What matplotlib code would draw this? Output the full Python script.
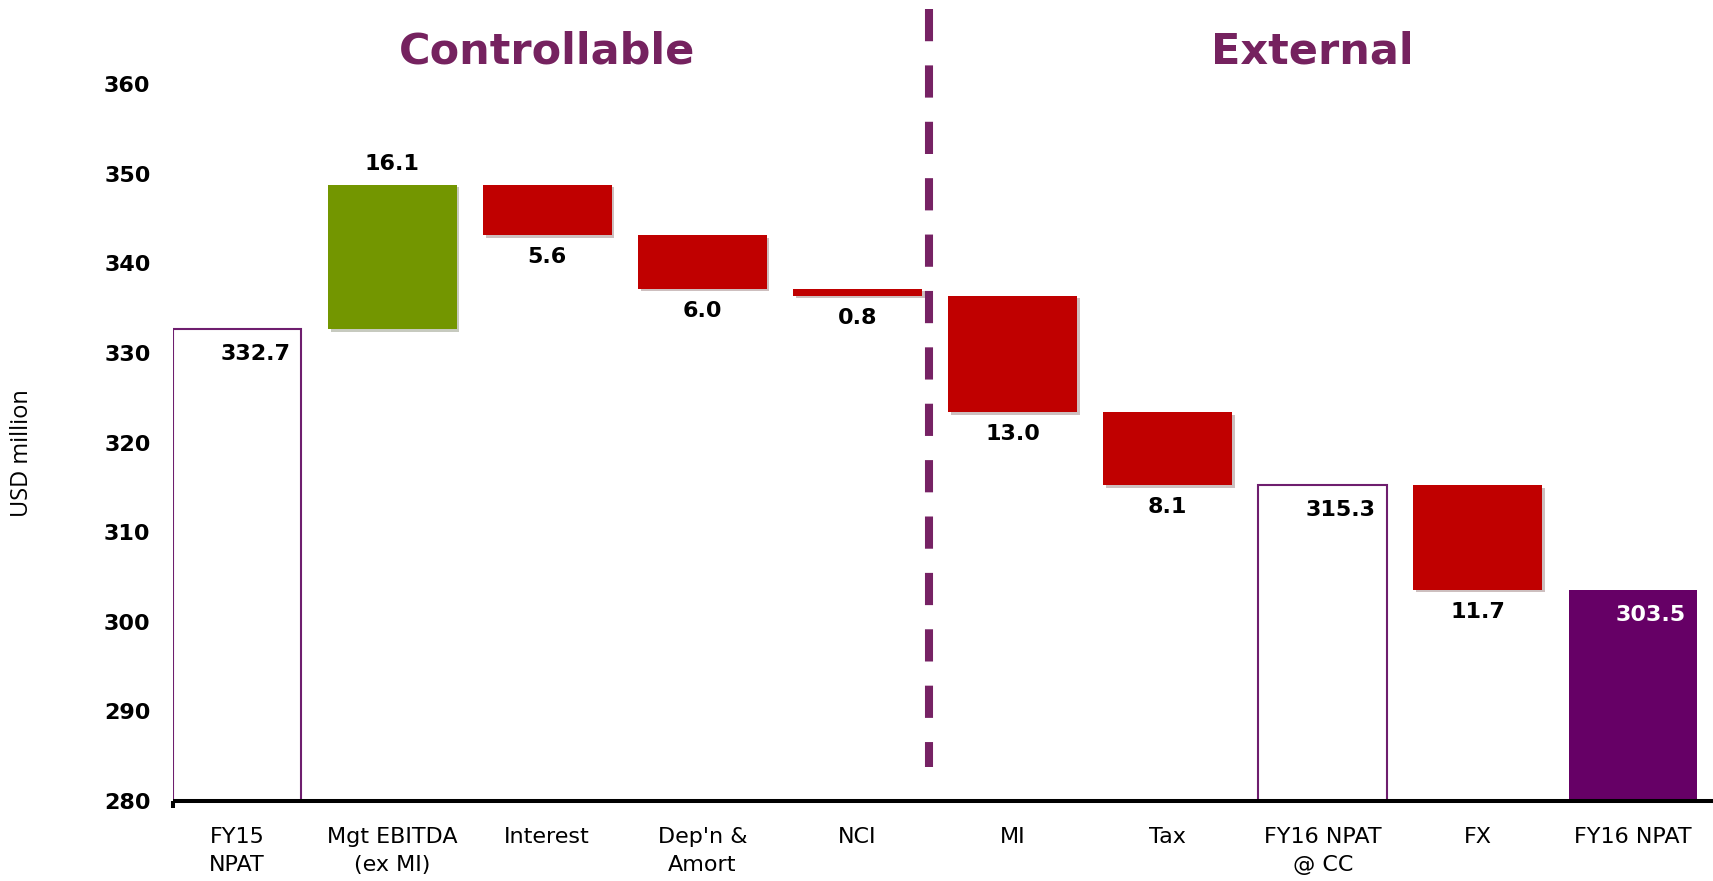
import matplotlib.pyplot as plt
import matplotlib.patheffects as pe

# NPAT bridge, FY15 -> FY16 (USD million)
categories = ["FY15\nNPAT", "Mgt EBITDA\n(ex MI)", "Interest", "Dep'n &\nAmort", "NCI",
              "MI", "Tax", "FY16 NPAT\n@ CC", "FX", "FY16 NPAT"]
start_value = 332.7
changes = [16.1, -5.6, -6.0, -0.8, -13.0, -8.1]   # Mgt EBITDA .. Tax
subtotal_value = 315.3
fx_change = -11.7
end_value = 303.5
y_ticks = [280, 290, 300, 310, 320, 330, 340, 350, 360]
group_titles = ["Controllable", "External"]

GREEN = "#739600"
RED = "#C00000"
PURPLE = "#660066"
OUTLINE = "#6E1E6E"
TITLE = "#75225F"

plt.rcParams['font.family'] = ['DejaVu Sans']

fig = plt.figure(figsize=(17.13, 8.81), dpi=100)
ax = fig.add_axes([0.1008, 0.0908, 0.8992, 0.9092])

base = 280
width = 0.83
shadow = [pe.SimplePatchShadow(offset=(2, -2), alpha=0.25), pe.Normal()]


def total_bar(x, value, filled=False):
    if filled:
        ax.bar(x, value - base, bottom=base, width=width, color=PURPLE)
        col = "white"
    else:
        ax.bar(x, value - base, bottom=base, width=width, facecolor="white",
               edgecolor=OUTLINE, linewidth=1.5)
        col = "black"
    ax.annotate(f"{value:.1f}", (x, value), xytext=(13, -18), textcoords="offset points",
                ha="center", va="center", fontsize=16, fontweight="bold", color=col)


def step_bar(x, level, delta):
    top = max(level, level + delta)
    bars = ax.bar(x, abs(delta), bottom=min(level, level + delta), width=width,
                  color=GREEN if delta > 0 else RED)
    for b in bars:
        b.set_path_effects(shadow)
    if delta > 0:
        ax.annotate(f"{abs(delta):.1f}", (x, top), xytext=(0, 15), textcoords="offset points",
                    ha="center", va="center", fontsize=16, fontweight="bold")
    else:
        ax.annotate(f"{abs(delta):.1f}", (x, level + delta), xytext=(0, -16),
                    textcoords="offset points", ha="center", va="center",
                    fontsize=16, fontweight="bold")
    return level + delta


total_bar(0, start_value)
level = start_value
for i, d in enumerate(changes):
    level = step_bar(i + 1, level, d)
total_bar(7, subtotal_value)
step_bar(8, subtotal_value, fx_change)
total_bar(9, end_value, filled=True)

ax.set_xlim(-0.415, 9.516)
ax.set_ylim(base, 369.4)

# divider between controllable and external items
ax.plot([4.46, 4.46], [368.4, 283.8], color="#762264", linewidth=5.8,
        dashes=(4, 3), solid_capstyle="butt")

ax.text(2, 363.7, group_titles[0], ha="center", va="center", fontsize=31,
        fontweight="bold", color=TITLE)
ax.text(6.93, 363.7, group_titles[1], ha="center", va="center", fontsize=31,
        fontweight="bold", color=TITLE)

for s in ["top", "right", "left"]:
    ax.spines[s].set_visible(False)
ax.spines["bottom"].set_linewidth(2.9)
ax.spines["bottom"].set_capstyle("butt")

ax.set_yticks(y_ticks)
ax.set_yticklabels([str(v) for v in y_ticks], fontsize=16, fontweight="bold")
ax.tick_params(axis="y", length=0, pad=16)

ax.set_xticks(range(len(categories)))
ax.set_xticklabels(categories, fontsize=16, linespacing=1.45)
ax.tick_params(axis="x", which="major", length=0, pad=19)
ax.set_xticks([-0.415], minor=True)
ax.tick_params(axis="x", which="minor", length=5, width=2.9, direction="out")

ax.set_ylabel("USD million", fontsize=17, family="Open Sans", va="center")
ax.yaxis.set_label_coords(-0.0978, 0.434)

fig.savefig("out.png", dpi=100)
